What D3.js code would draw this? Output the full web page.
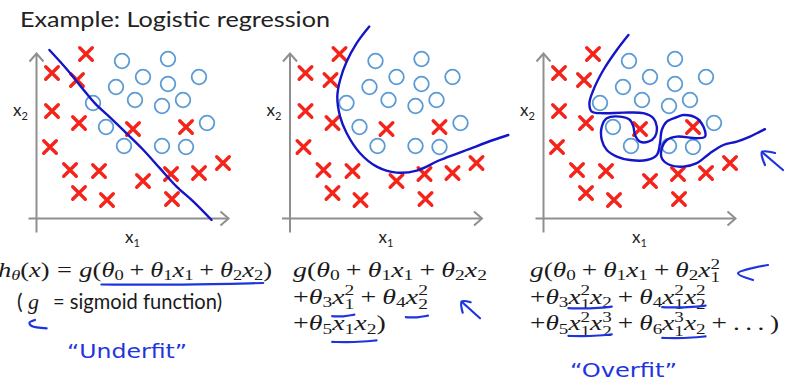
<!DOCTYPE html>
<html>
<head>
<meta charset="utf-8">
<title>Example: Logistic regression</title>
<script src="https://d3js.org/d3.v7.min.js"></script>
<style>
  body { margin: 0; background: #fff; }
  .axis path { stroke: #8f8f8f; stroke-width: 2px; fill: none; }
  .cross { stroke: #f5241b; stroke-width: 3.4px; stroke-linecap: round; fill: none; }
  .circle { stroke: #5b9bd5; stroke-width: 1.8px; fill: none; }
  .boundary { stroke: #1414c8; stroke-width: 2.4px; fill: none; stroke-linecap: round; stroke-linejoin: round; }
  .pen { stroke: #1e34e0; stroke-width: 2.2px; fill: none; stroke-linecap: round; stroke-linejoin: round; }
  .math text { font-family: "Liberation Serif", "DejaVu Serif", serif; }
</style>
</head>
<body>
<svg id="slide" width="789" height="387"></svg>
<script>
// data in plot units (x1 across, x2 up)
var crossX1 = [2.5, 0.8, 2.05, 0.8, 2.15, 4.85, 7.5, 0.7, 1.7, 3.15, 5.35, 6.75, 8.15, 9.35, 2.15, 3.55, 6.8];
var crossX2 = [8.2, 7.25, 6.9, 5.35, 4.75, 4.45, 4.55, 3.55, 2.4, 2.35, 1.85, 2.2, 2.25, 2.75, 1.25, 0.9, 0.95];
var circleX1 = [4.3, 6.6, 5.35, 4.0, 6.6, 8.15, 2.85, 4.95, 6.3, 7.35, 3.5, 8.55, 4.4, 6.3, 7.5];
var circleX2 = [7.85, 7.95, 7.05, 6.55, 6.7, 7.05, 5.75, 5.9, 5.6, 5.9, 4.55, 4.75, 3.6, 3.6, 3.55];

// hand drawn decision boundaries
var linearX1 = [0.67, 1.53, 2.28, 2.95, 3.7, 4.53, 5.37, 6.2, 7.03, 7.87, 8.78];
var linearX2 = [8.4, 7.45, 6.53, 5.73, 5.03, 4.23, 3.4, 2.48, 1.57, 0.82, -0.1];
var quadX1 = [3.99, 3.36, 2.86, 2.53, 2.39, 2.53, 2.86, 3.53, 4.36, 5.36, 6.36, 7.53, 8.86, 10.19, 10.94];
var quadX2 = [9.57, 8.74, 7.82, 6.9, 6.07, 5.07, 4.24, 3.24, 2.57, 2.27, 2.37, 2.9, 3.4, 3.9, 4.15];
var overX1 = [4.27, 3.69, 3.02, 2.52, 2.32, 2.44, 3.02, 4.02, 5.02, 5.52, 5.69, 5.6, 5.27, 4.85, 4.6, 4.52, 4.35, 3.85,
  3.19, 2.94, 2.94, 3.19, 3.69, 4.35, 5.19, 5.69, 5.85, 5.94, 6.19, 6.69, 7.02, 7.69, 8.02, 8.1, 7.69, 6.69, 6.19,
  5.94, 5.94, 6.35, 7.02, 7.69, 8.35, 9.02, 9.69, 10.35, 10.85, 11.1];
var overX2 = [9.15, 8.4, 7.4, 6.4, 5.74, 5.32, 5.24, 5.27, 5.24, 4.99, 4.57, 4.07, 3.82, 3.82, 4.15, 4.57, 4.9, 5.07,
  4.99, 4.57, 3.9, 3.4, 3.07, 2.9, 2.9, 3.15, 3.74, 4.4, 4.82, 5.04, 5.15, 4.99, 4.57, 4.07, 3.99, 4.07, 3.9,
  3.49, 2.99, 2.65, 2.57, 2.74, 3.24, 3.65, 3.82, 4.07, 4.32, 4.44];

var titleText = "Example: Logistic regression";
// math rows: _ sub, ^ sup, {n: ... } underlined n px below baseline
var eqUnder = ["h_θ(x) = g({7:θ_0 + θ_1x_1 + θ_2x_2})"];
var eqQuad = ["g(θ_0 + θ_1x_1 + θ_2x_2", "+θ_3{12:x_1^2} + θ_4{13:x_2^2}", "+θ_5{11:x_1x_2})"];
var eqOver = ["g(θ_0 + θ_1x_1 + θ_2x_1^2", "+θ_3{4:x_1^2x_2} + θ_4{3:x_1^2x_2^2}", "+θ_5{5:x_1^2x_2^3} + θ_6{7:x_1^3x_2} + ...)"];
var notes = ["“Underfit”", "“Overfit”"];

// pen strokes (screen annotations)
var penStrokes = [
  [[35, 320], [29.5, 322.7], [31.7, 326], [46.7, 328.3]],
  [[462.7, 312.7], [461.7, 301.7], [470.7, 302.3]],
  [[461.7, 301.7], [480, 318.3]],
  [[768, 265], [738, 273.3], [753, 280]],
  [[775, 153], [762, 152], [765, 165]],
  [[762, 152], [783, 170]]
];

var svg = d3.select("#slide");
var sans = "Lato, 'Open Sans', sans-serif";

svg.append("defs").append("marker")
  .attr("id", "arr")
  .attr("viewBox", "-10 -9 12 18")
  .attr("refX", 0).attr("refY", 0)
  .attr("markerWidth", 12).attr("markerHeight", 18)
  .attr("markerUnits", "userSpaceOnUse")
  .attr("orient", "auto")
  .append("path")
  .attr("d", "M-8,-7L0,0L-8,7")
  .attr("fill", "none").attr("stroke", "#8f8f8f").attr("stroke-width", 2);

svg.append("text")
  .attr("x", 20).attr("y", 27)
  .attr("font-family", sans).attr("font-size", 22).attr("fill", "#222")
  .attr("textLength", 310).attr("lengthAdjust", "spacingAndGlyphs")
  .text(titleText);

var panels = [
  { ox: 36, bx: linearX1, by: linearX2 },
  { ox: 289.5, bx: quadX1, by: quadX2 },
  { ox: 543, bx: overX1, by: overX2 }
];

var crosses = crossX1.map(function(d, i) { return { a: d, b: crossX2[i] }; });
var circles = circleX1.map(function(d, i) { return { a: d, b: circleX2[i] }; });

panels.forEach(function(p) {
  var x = d3.scaleLinear().domain([0, 10]).range([p.ox, p.ox + 200]);
  var y = d3.scaleLinear().domain([0, 10]).range([218, 18]);
  var g = svg.append("g");

  var xa = d3.scaleLinear().domain([-0.4, 9.6]).range([x(-0.4), x(9.6)]);
  var ya = d3.scaleLinear().domain([-0.7, 8.25]).range([y(-0.7), y(8.25)]);

  g.append("g").attr("class", "axis")
    .attr("transform", "translate(0," + y(0) + ")")
    .call(d3.axisBottom(xa).tickValues([]).tickSizeOuter(0))
    .select(".domain").attr("marker-end", "url(#arr)");
  g.append("g").attr("class", "axis")
    .attr("transform", "translate(" + x(0) + ",0)")
    .call(d3.axisLeft(ya).tickValues([]).tickSizeOuter(0))
    .select(".domain").attr("marker-end", "url(#arr)");

  var lx = g.append("text").attr("x", x(0) - 23).attr("y", y(5.1))
    .attr("font-family", sans).attr("font-size", 17).attr("fill", "#222");
  lx.append("tspan").text("x");
  lx.append("tspan").attr("font-size", 11).attr("dy", 4).text("2");
  var ly = g.append("text").attr("x", x(4.45)).attr("y", 243)
    .attr("font-family", sans).attr("font-size", 17).attr("fill", "#222");
  ly.append("tspan").text("x");
  ly.append("tspan").attr("font-size", 11).attr("dy", 4).text("1");

  g.selectAll(".circle").data(circles).enter().append("circle")
    .attr("class", "circle")
    .attr("cx", function(d) { return x(d.a); })
    .attr("cy", function(d) { return y(d.b); })
    .attr("r", 7.3);

  g.selectAll(".cross").data(crosses).enter().append("path")
    .attr("class", "cross")
    .attr("d", function(d) {
      var cx = x(d.a), cy = y(d.b), s = 6.3;
      return "M" + (cx - s) + "," + (cy - s) + "L" + (cx + s) + "," + (cy + s) +
        "M" + (cx - s) + "," + (cy + s) + "L" + (cx + s) + "," + (cy - s);
    });

  var pts = p.bx.map(function(d, i) { return [d, p.by[i]]; });
  g.append("path").attr("class", "boundary")
    .attr("d", d3.line()
      .x(function(d) { return x(d[0]); })
      .y(function(d) { return y(d[1]); })
      .curve(d3.curveCatmullRom)(pts));
});

// ---- math ----
function isLetter(c) { return /[a-zθ]/.test(c); }

function mathRow(g, src, size) {
  var cx = 0, first = true, marks = [], open = null, i = 0;
  function glyph(ch, fs, dy, it) {
    var t = g.append("text").attr("x", cx).attr("y", dy)
      .attr("font-size", fs).attr("font-style", it ? "italic" : "normal").text(ch);
    return t.node().getComputedTextLength();
  }
  while (i < src.length) {
    var c = src[i];
    if (c === " ") { i++; continue; }
    if (c === "{") {
      var j = src.indexOf(":", i);
      open = { x0: cx, off: +src.slice(i + 1, j) };
      i = j + 1; continue;
    }
    if (c === "}") { open.x1 = cx; marks.push(open); i++; continue; }
    if (c === "+" || c === "=") {
      var pad = first ? 0 : size * (c === "=" ? 0.28 : 0.22);
      cx += pad; cx += glyph(c, size, 0, false); cx += pad;
      first = false; i++; continue;
    }
    if (c === ".") { cx += glyph(".", size, 0, false) + size * 0.2; i++; continue; }
    if (c === "_" || c === "^") {
      var sub = null, sup = null, w = 0, ss = size * 0.7;
      if (c === "_") {
        sub = src[i + 1]; i += 2;
        if (src[i] === "^") { sup = src[i + 1]; i += 2; }
      } else { sup = src[i + 1]; i += 2; }
      if (sub) w = Math.max(w, glyph(sub, ss, size * (sup ? 0.26 : 0.16), isLetter(sub)));
      if (sup) w = Math.max(w, glyph(sup, ss, -size * 0.4, isLetter(sup)));
      cx += w; continue;
    }
    cx += glyph(c, size, 0, isLetter(c));
    first = false; i++;
  }
  return { width: cx, marks: marks };
}

function mathBlock(rows, x0, base0, lead, size, fitWidth) {
  var blocks = rows.map(function(r, k) {
    var g = svg.append("g").attr("class", "math").attr("fill", "#1a1a1a");
    var res = mathRow(g, r, size);
    res.g = g; res.base = base0 + k * lead;
    return res;
  });
  var sx = fitWidth / blocks[0].width;
  blocks.forEach(function(b) {
    b.g.attr("transform", "translate(" + x0 + "," + b.base + ") scale(" + sx + ",1)");
    b.marks.forEach(function(m) {
      var a = x0 + m.x0 * sx, e = x0 + m.x1 * sx, yy = b.base + m.off;
      svg.append("path").attr("class", "pen")
        .attr("d", d3.line().curve(d3.curveBasis)([[a, yy + 0.5], [(a + e) / 2, yy + 1], [e, yy - 1]]));
    });
  });
}

mathBlock(eqUnder, -2, 277, 0, 21, 274);
mathBlock(eqQuad, 293, 277, 26.7, 21, 194);
mathBlock(eqOver, 530, 277, 26.7, 21, 190);

// sigmoid note
svg.append("text").attr("x", 17).attr("y", 309).attr("font-family", sans)
  .attr("font-size", 21).attr("fill", "#1a1a1a").text("(");
var gm = svg.append("g").attr("class", "math");
gm.append("text").attr("x", 28).attr("y", 309)
  .attr("font-style", "italic").attr("font-size", 22).attr("fill", "#1a1a1a").text("g");
svg.append("text").attr("x", 53).attr("y", 309).attr("font-family", sans)
  .attr("font-size", 21).attr("fill", "#1a1a1a")
  .attr("textLength", 169).attr("lengthAdjust", "spacingAndGlyphs")
  .text("= sigmoid function)");

// handwritten notes
var noteFont = "'DejaVu Sans', sans-serif";
svg.append("text").attr("x", 67).attr("y", 358).attr("font-family", noteFont)
  .attr("font-size", 19).attr("fill", "#1e34e0")
  .attr("textLength", 120).attr("lengthAdjust", "spacingAndGlyphs")
  .text(notes[0]);
svg.append("text").attr("x", 570).attr("y", 377).attr("font-family", noteFont)
  .attr("font-size", 19).attr("fill", "#1e34e0")
  .attr("textLength", 107).attr("lengthAdjust", "spacingAndGlyphs")
  .text(notes[1]);

svg.selectAll(".stroke").data(penStrokes).enter().append("path")
  .attr("class", "pen")
  .attr("d", d3.line().curve(d3.curveCatmullRom));
</script>
</body>
</html>
